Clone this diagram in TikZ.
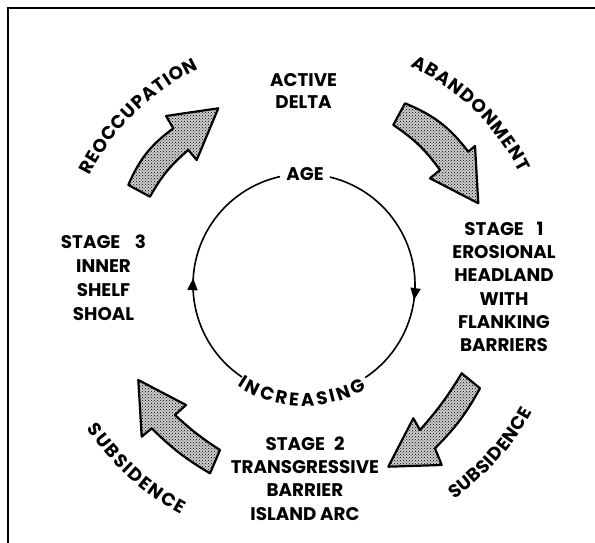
\documentclass[tikz,border=0pt]{standalone}
\usepackage{fontspec}
\setmainfont{Poppins}
\usetikzlibrary{arrows.meta,decorations.markings,decorations.text,patterns}
\newcommand\cvfont{\bfseries\fontsize{18.3}{18.3}\selectfont}
\begin{document}
\begin{tikzpicture}[x=1pt,y=1pt,
  lab/.style={font=\bfseries\fontsize{18.3}{23.2}\selectfont, align=center, inner sep=0pt},
  bigarrow/.style={draw=black, line width=2.2pt, line join=round, preaction={fill=gray!40}, pattern=crosshatch dots, pattern color=black},
  ring/.style={line width=1.6pt},
  curved/.style={decorate, decoration={text along path, text align={fit to path}, text={|\cvfont|#1}}},
]
\useasboundingbox (0,0) rectangle (595,543);
% frame (cropped: only left and top edges)
\draw[line width=2pt] (7.5,-2) -- (7.5,534.7) -- (597,534.7);

\coordinate (c) at (304,258);

% age cycle
\draw[ring, postaction={decorate}, decoration={markings, mark=at position 0.634 with {\arrow{Triangle[length=12pt,width=10pt]}}}]
  ([shift={(76.5:111)}]c) arc[start angle=76.5, end angle=-56.5, radius=111];
\draw[ring, postaction={decorate}, decoration={markings, mark=at position 0.446 with {\arrow{Triangle[length=12pt,width=10pt]}}}]
  ([shift={(236:111)}]c) arc[start angle=236, end angle=102.5, radius=111];
\node[lab] (age) at (305,369) {AGE};
\path[curved=INCREASING] ([shift={(236.5:121)}]c) arc[start angle=236.5, end angle=301, radius=121];

% stage labels
\node[lab] (delta) at (303.6,452) {ACTIVE\\[-2pt]DELTA};
\node[lab] (s1) at (504,256.2) {STAGE\hspace{0.7em}1\\EROSIONAL\\HEADLAND\\WITH\\FLANKING\\BARRIERS};
\node[lab] (s2) at (305,64.5) {STAGE\hspace{0.5em}2\\TRANSGRESSIVE\\BARRIER\\ISLAND ARC};
\node[lab] (s3) at (103.5,265.2) {STAGE\hspace{0.8em}3\\[1pt]INNER\\[1pt]SHELF\\[1pt]SHOAL};

% process arrows
\draw[bigarrow] (128.3,358) -- (150,346.3) to[bend left=10] (188.3,393) -- (196.7,383) -- (218.3,434.7) -- (166,427) -- (173.3,414.7) to[bend right=15] (128.3,358) -- cycle;
\draw[bigarrow] (405,439.7) to[bend left=15] (468.3,391.3) -- (475,397) -- (478.3,339.7) -- (430,364.7) -- (440,373) to[bend right=10] (393.3,418) -- cycle;
\draw[bigarrow] (461.7,169.7) -- (480,154.7) to[bend left=8] (435,94.7) -- (441.7,78) -- (388.3,76.3) -- (413.3,124.7) -- (420,113) to[bend right=5] (461.7,169.7) -- cycle;
\draw[bigarrow] (138.3,163) -- (186,138) -- (175,128) to[bend right=5] (220,93) -- (210,69.7) to[bend left=7] (151.7,114.7) -- (141.7,106.3) -- cycle;

% process labels
\path[curved=REOCCUPATION] ([shift={(153:240.5)}]c) arc[start angle=153, end angle=116, radius=240.5];
\path[curved=ABANDONMENT] ([shift={(64:243.5)}]c) arc[start angle=64, end angle=27.5, radius=243.5];
\path[curved=SUBSIDENCE] ([shift={(213.5:260.5)}]c) arc[start angle=213.5, end angle=241.8, radius=260.5];
\path[curved=SUBSIDENCE] ([shift={(305:261.5)}]c) arc[start angle=305, end angle=331, radius=261.5];
\end{tikzpicture}
\end{document}
